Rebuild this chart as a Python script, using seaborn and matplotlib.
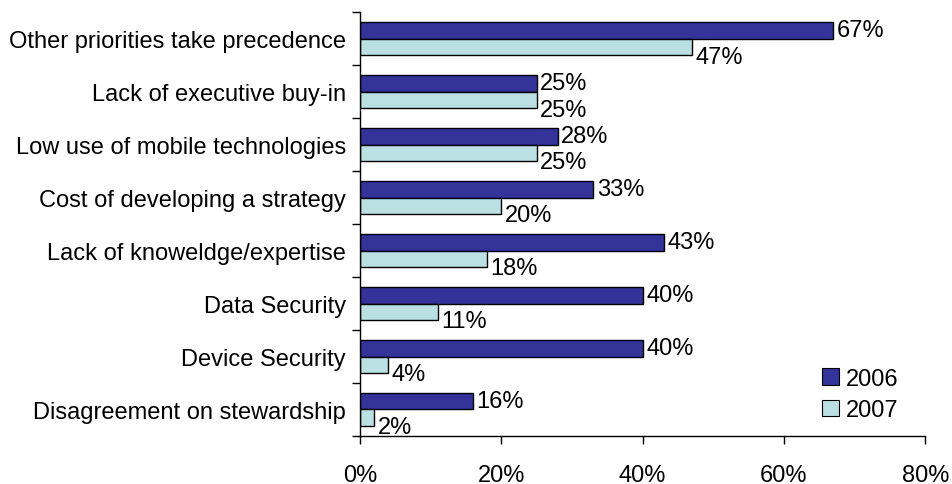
import matplotlib
matplotlib.use("Agg")
import matplotlib.pyplot as plt
import seaborn as sns
import pandas as pd
from matplotlib.ticker import FixedLocator, FuncFormatter

categories = ["Other priorities take precedence", "Lack of executive buy-in",
              "Low use of mobile technologies", "Cost of developing a strategy",
              "Lack of knoweldge/expertise", "Data Security", "Device Security",
              "Disagreement on stewardship"]
values_2006 = [67, 25, 28, 33, 43, 40, 40, 16]
values_2007 = [47, 25, 25, 20, 18, 11, 4, 2]
series = ["2006", "2007"]
colors = ["#333399", "#BBE0E3"]
xticks = [0, 20, 40, 60, 80]

df = pd.DataFrame({
    "category": categories * 2,
    "value": values_2006 + values_2007,
    "year": [series[0]] * len(categories) + [series[1]] * len(categories),
})

sns.set_style("white")
plt.rcParams["font.family"] = ["Liberation Sans", "DejaVu Sans"]
plt.rcParams["text.color"] = "black"
plt.rcParams["xtick.color"] = "black"
plt.rcParams["ytick.color"] = "black"

FS = 17

fig = plt.figure(figsize=(9.52, 4.85), dpi=100)
ax = fig.add_axes([0.378, 0.099, 0.594, 0.874])

sns.barplot(data=df, y="category", x="value", hue="year", order=categories,
            hue_order=series, palette=colors, orient="h", width=0.62,
            saturation=1, edgecolor="black", linewidth=1, ax=ax, legend=True)

ax.set_xlim(0, 80)
ax.set_ylim(len(categories) - 0.5, -0.5)
ax.xaxis.set_major_locator(FixedLocator(xticks))
ax.xaxis.set_major_formatter(FuncFormatter(lambda v, p: f"{int(v)}%"))
ax.set_xlabel("")
ax.set_ylabel("")

# y ticks: marks at boundaries, labels at centres
ax.set_yticks([i + 0.5 for i in range(-1, len(categories))])
ax.set_yticklabels([])
ax.set_yticks(list(range(len(categories))), minor=True)
ax.set_yticklabels(categories, minor=True, fontsize=FS)
ax.tick_params(axis="y", which="minor", length=0, pad=10, left=True)
ax.tick_params(axis="y", which="major", length=6, width=1, color="black",
               direction="out", left=True)
ax.tick_params(axis="x", which="major", length=6, width=1, color="black",
               direction="out", labelsize=FS, pad=14, bottom=True)

for s in ["top", "right"]:
    ax.spines[s].set_visible(False)
for s in ["left", "bottom"]:
    ax.spines[s].set_color("black")
    ax.spines[s].set_linewidth(1)

# value labels
for ci, cont in enumerate(ax.containers):
    for bar in cont:
        w = bar.get_width()
        yc = bar.get_y() + bar.get_height() / 2
        dy = 0 if ci == 0 else -7
        ax.annotate(f"{int(round(w))}%", xy=(w, yc), xytext=(2.5, dy),
                    textcoords="offset points", ha="left", va="center", fontsize=FS)

leg = ax.legend(loc="lower right", bbox_to_anchor=(0.99, -0.015), frameon=False,
                fontsize=FS, handlelength=0.7, handleheight=0.7, handletextpad=0.3,
                labelspacing=0.4)
for h in leg.legend_handles:
    h.set_edgecolor("black")
    h.set_linewidth(0.8)

fig.savefig("out.png", dpi=100)
